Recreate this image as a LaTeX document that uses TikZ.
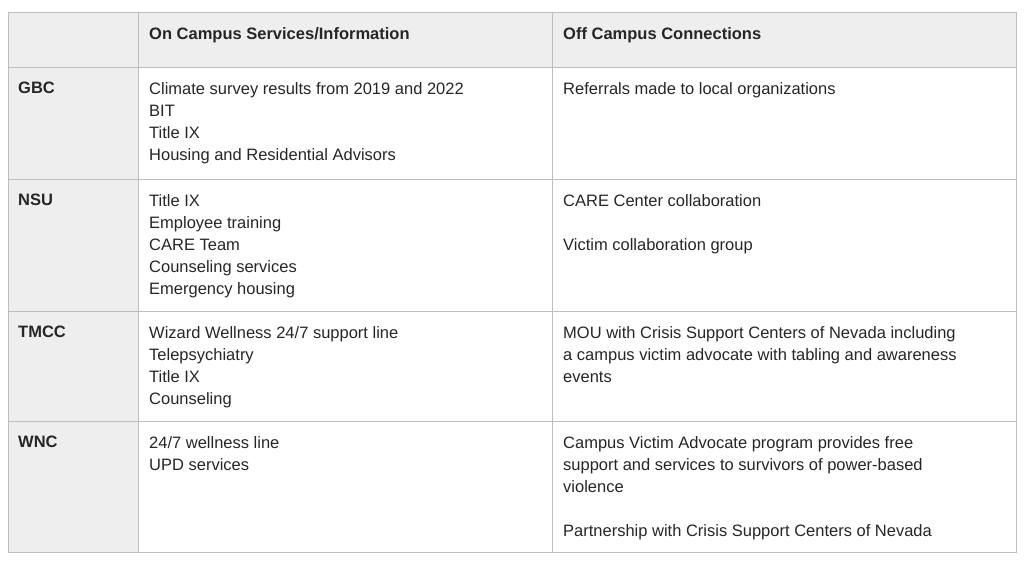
\documentclass[tikz,border=0pt]{standalone}
\usepackage{fontspec}
\setmainfont{Liberation Sans}
\begin{document}
\begin{tikzpicture}[x=1pt,y=-1pt,
  cell/.style={anchor=north west,inner sep=0pt,align=left,font=\fontsize{16.5}{22.2}\selectfont,text=black!85},
  hcell/.style={cell,font=\fontsize{16.5}{22.2}\selectfont\bfseries}]
\useasboundingbox (0,0) rectangle (1024,576);
\definecolor{hdr}{HTML}{EEEEEE}
\definecolor{grid}{HTML}{BDBDBD}
\fill[hdr] (8,12) rectangle (1016,67);
\fill[hdr] (8,67) rectangle (138,552);
\draw[grid,line width=1pt] (8,12) rectangle (1016,552);
\foreach \y in {67,179,311,421} \draw[grid,line width=1pt] (8,\y) -- (1016,\y);
\foreach \x in {138,552} \draw[grid,line width=1pt] (\x,12) -- (\x,552);
\node[hcell] (h1) at (149,27) {On Campus Services/Information};
\node[hcell] (h2) at (563,27) {Off Campus Connections};
\node[hcell] (r1) at (18,82) {GBC};
\node[hcell] (r2) at (18,194) {NSU};
\node[hcell] (r3) at (18,326) {TMCC};
\node[hcell] (r4) at (18,436) {WNC};
\node[cell] (a1) at (149,82) {Climate survey results from 2019 and 2022\\BIT\\Title IX\\Housing and Residential Advisors};
\node[cell] (b1) at (563,82) {Referrals made to local organizations};
\node[cell] (a2) at (149,194) {Title IX\\Employee training\\CARE Team\\Counseling services\\Emergency housing};
\node[cell] (b2) at (563,194) {CARE Center collaboration\\[22.2pt]Victim collaboration group};
\node[cell] (a3) at (149,326) {Wizard Wellness 24/7 support line\\Telepsychiatry\\Title IX\\Counseling};
\node[cell] (b3) at (563,326) {MOU with Crisis Support Centers of Nevada including\\a campus victim advocate with tabling and awareness\\events};
\node[cell] (a4) at (149,436) {24/7 wellness line\\UPD services};
\node[cell] (b4) at (563,436) {Campus Victim Advocate program provides free\\support and services to survivors of power-based\\violence\\[22.2pt]Partnership with Crisis Support Centers of Nevada};
\end{tikzpicture}
\end{document}
